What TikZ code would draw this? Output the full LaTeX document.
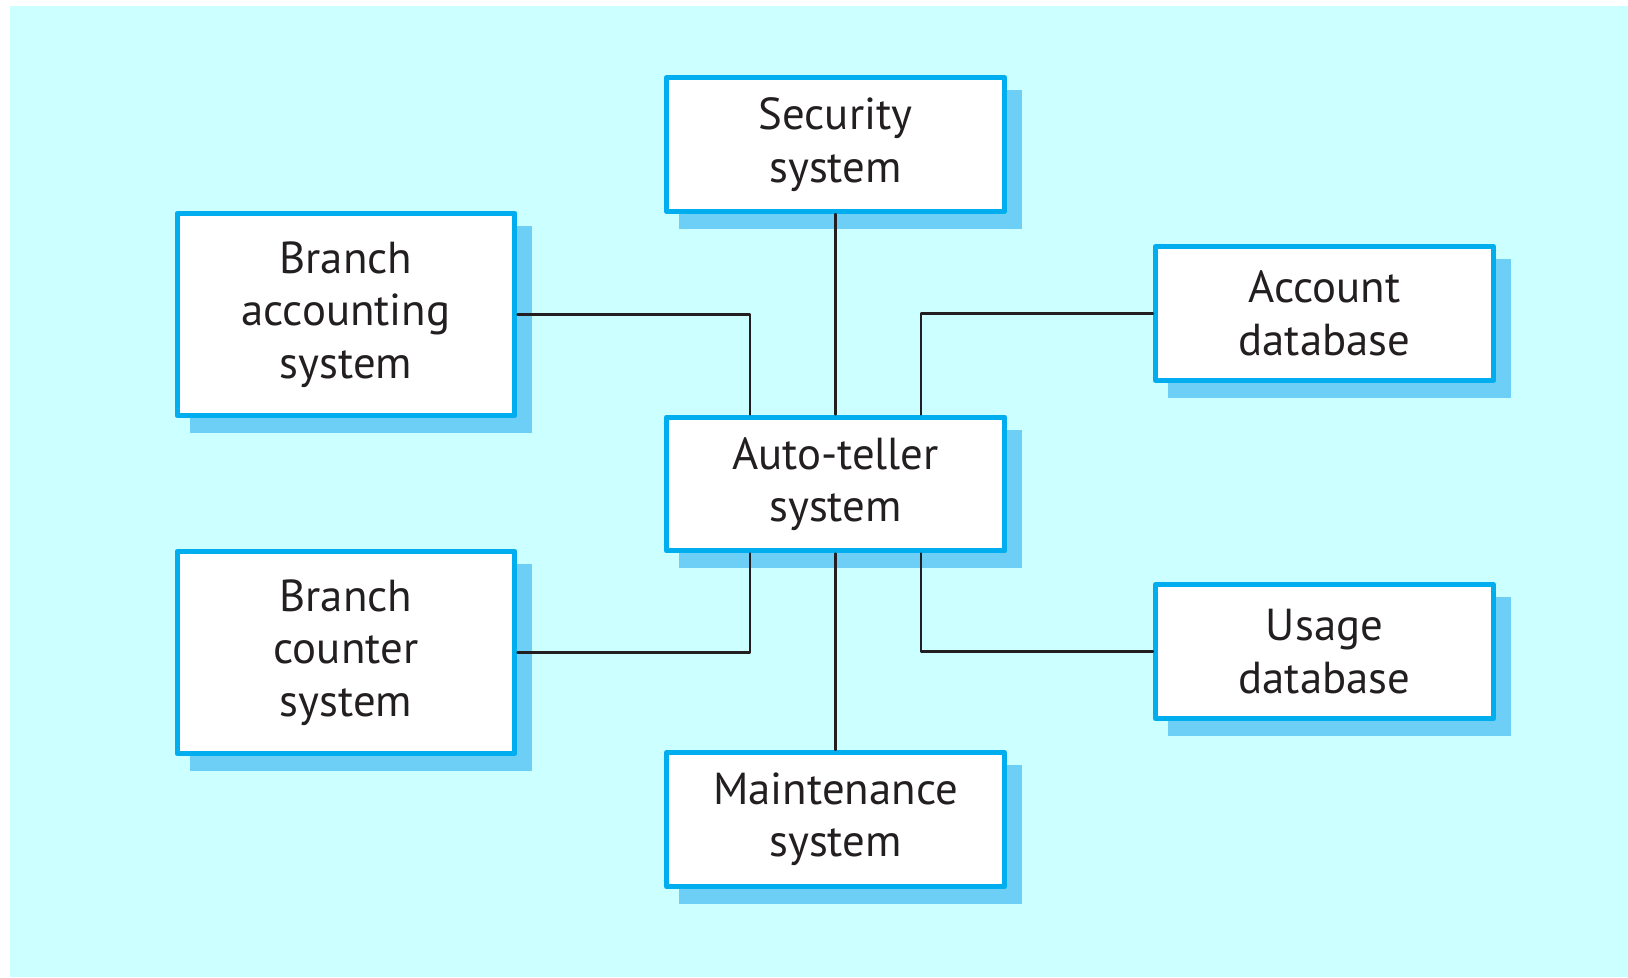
\documentclass[tikz,border=0pt]{standalone}
\usepackage{fontspec}
\setmainfont{PT Sans}
\usetikzlibrary{calc,backgrounds}
\definecolor{bgcyan}{HTML}{CCFFFF}
\definecolor{boxblue}{HTML}{00AEEF}
\definecolor{shadeblue}{HTML}{6DCFF6}
\definecolor{inkgray}{HTML}{231F20}
\tikzset{
  sysbox/.style={draw=boxblue,line width=0.1cm,fill=white,text=inkgray,align=center,
    minimum width=6.76cm,minimum height=2.68cm,inner sep=0pt,
    font=\fontsize{25.5}{29.8}\selectfont},
  tallbox/.style={sysbox,minimum height=4.04cm},
  link/.style={draw=inkgray,line width=0.045cm}
}
\begin{document}
\begin{tikzpicture}[x=0.02cm,y=-0.02cm,line join=round,line cap=round]
				\useasboundingbox (0,0) rectangle (1628,977);
				\node[sysbox] (sec) at (835.5,144.5) {Security\\system};
				\node[sysbox] (auto) at (835.5,484) {Auto-teller\\system};
				\node[sysbox] (maint) at (835.5,819.5) {Maintenance\\system};
				\node[tallbox] (bacc) at (346,314.5) {Branch\\accounting\\system};
				\node[tallbox] (bcnt) at (346,652.5) {Branch\\counter\\system};
				\node[sysbox] (acct) at (1324.5,313.5) {Account\\database};
				\node[sysbox] (usage) at (1324.5,651.5) {Usage\\database};
				\coordinate (an1) at ($(auto.north west)!0.25!(auto.north east)$);
				\coordinate (an3) at ($(auto.north west)!0.75!(auto.north east)$);
				\coordinate (as1) at ($(auto.south west)!0.25!(auto.south east)$);
				\coordinate (as3) at ($(auto.south west)!0.75!(auto.south east)$);
				\draw[link] (sec.south)--(auto.north) (auto.south)--(maint.north);
				\draw[link] (bacc.east)-|(an1) (acct.west)-|(an3) (bcnt.east)-|(as1) (usage.west)-|(as3);
				\begin{scope}[on background layer]
				\fill[bgcyan] (10,6) rectangle (1628,977);
				\foreach \n in {sec,auto,maint,bacc,bcnt,acct,usage}{\fill[shadeblue] ($(\n.north west)+(15,15)$) rectangle ($(\n.south east)+(15,15)$);}
				\end{scope}
			\end{tikzpicture}
\end{document}
